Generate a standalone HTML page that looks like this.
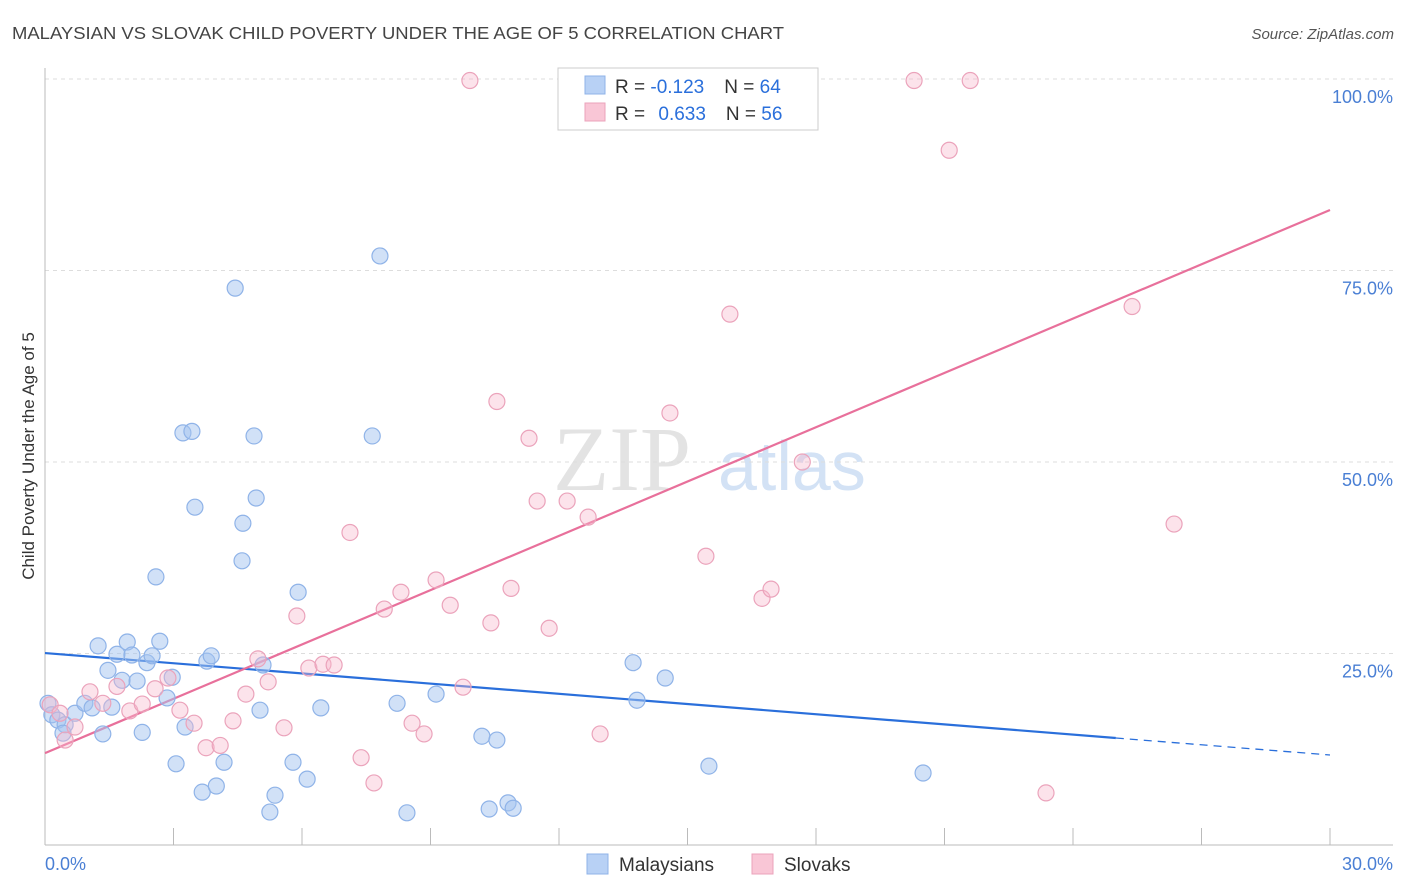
<!DOCTYPE html>
<html><head><meta charset="utf-8">
<style>
body{margin:0;background:#fff;font-family:"Liberation Sans",sans-serif;}
svg{display:block}
</style></head>
<body>
<svg id="chart" width="1406" height="892" xmlns="http://www.w3.org/2000/svg">
<text x="12" y="39" font-size="17.5" fill="#444" font-family="Liberation Sans" textLength="772" lengthAdjust="spacingAndGlyphs">MALAYSIAN VS SLOVAK CHILD POVERTY UNDER THE AGE OF 5 CORRELATION CHART</text>
<text x="1394" y="39" font-size="15" fill="#555" font-style="italic" text-anchor="end">Source: ZipAtlas.com</text>
<g>
<text x="553" y="490" font-size="92" fill="#ddd" font-family="Liberation Serif" opacity="0.8">ZIP</text>
<text x="718" y="490" font-size="70" fill="#c9dcf3" opacity="0.8">atlas</text>
</g>
<g id="grid"></g>
<g id="axes"></g>
<g id="lines"></g>
<g id="points"></g>
<text transform="translate(34,456) rotate(-90)" font-size="17" fill="#333" text-anchor="middle">Child Poverty Under the Age of 5</text>
<g>
<rect x="558" y="68" width="260" height="62" fill="#fff" stroke="#ccc"/>
<rect x="585" y="76" width="20" height="18" fill="#b8d1f5" stroke="#8fb3e8"/>
<rect x="585" y="103" width="20" height="18" fill="#f9c6d6" stroke="#eba3bb"/>
<text x="615" y="93" font-size="19" fill="#333">R = <tspan fill="#2a6fdb">-0.123</tspan><tspan dx="20">N = </tspan><tspan fill="#2a6fdb">64</tspan></text>
<text x="615" y="120" font-size="19" fill="#333">R = <tspan fill="#2a6fdb" dx="8">0.633</tspan><tspan dx="20">N = </tspan><tspan fill="#2a6fdb">56</tspan></text>
</g>
<g>
<rect x="587" y="854" width="21" height="20" fill="#b8d1f5" stroke="#8fb3e8"/>
<text x="619" y="871" font-size="19" fill="#333">Malaysians</text>
<rect x="752" y="854" width="21" height="20" fill="#f9c6d6" stroke="#eba3bb"/>
<text x="784" y="871" font-size="19" fill="#333">Slovaks</text>
</g>
</svg>
<script>
const xTicks=[0,3,6,9,12,15,18,21,24,27,30];
const yTicks=[25,50,75,100];
const yTickLabels=["25.0%","50.0%","75.0%","100.0%"];
const xEndLabels=["0.0%","30.0%"];
const malaysiansX=[0.07,0.16,0.3,0.47,0.42,0.7,0.93,1.1,1.24,1.35,1.47,1.56,1.68,1.8,1.92,2.03,2.15,2.27,2.38,2.5,2.59,2.68,2.85,2.97,3.06,3.22,3.27,3.43,3.5,3.67,3.78,3.88,4.0,4.18,4.44,4.62,4.6,4.88,4.93,5.02,5.09,5.25,5.37,5.79,5.91,6.12,6.44,7.64,7.82,8.22,8.45,9.13,10.2,10.37,10.55,10.81,10.93,13.73,13.82,14.48,15.5,20.5];
const malaysiansY=[18.5,17.0,16.3,15.7,14.6,17.2,18.5,17.9,26.0,14.5,22.8,18.0,24.9,21.5,26.5,24.8,21.4,14.7,23.8,24.7,35.0,26.6,19.2,21.9,10.6,53.8,15.4,54.0,44.1,6.9,24.0,24.7,7.7,10.8,72.7,42.0,37.1,53.4,45.3,17.6,23.5,4.3,6.5,10.8,33.0,8.6,17.9,53.4,76.9,18.5,4.2,19.7,14.2,4.7,13.7,5.5,4.8,23.8,18.9,21.8,10.3,9.4];
const slovaksX=[0.12,0.35,0.47,0.7,1.05,1.35,1.68,1.98,2.27,2.57,2.87,3.15,3.48,3.76,4.09,4.39,4.69,4.97,5.21,5.58,5.88,6.16,6.49,6.75,7.12,7.38,7.68,7.92,8.31,8.57,8.85,9.13,9.46,9.76,9.92,10.41,10.55,10.88,11.3,11.49,11.77,12.19,12.68,12.96,14.59,15.43,15.99,16.74,16.95,17.68,20.29,21.11,21.6,23.37,25.38,26.36];
const slovaksY=[18.3,17.2,13.7,15.4,20.0,18.5,20.7,17.5,18.4,20.4,21.8,17.6,15.9,12.7,13.0,16.2,19.7,24.3,21.3,15.3,29.9,23.1,23.6,23.5,40.8,11.4,8.1,30.8,33.0,15.9,14.5,34.6,31.3,20.6,99.8,29.0,57.9,33.5,53.1,44.9,28.3,44.9,42.8,14.5,56.4,37.7,69.3,32.2,33.4,50.0,99.8,90.7,99.8,6.8,70.3,41.9];
const blueTrend=[25.06,11.75]; const blueSolidEnd=25;
const pinkTrend=[12.0,82.9];

const NS="http://www.w3.org/2000/svg";
const X=v=>45+v/30*1285;
const Y=v=>845-v*7.66;
function mk(tag,attrs,parent){const e=document.createElementNS(NS,tag);for(const k in attrs)e.setAttribute(k,attrs[k]);document.getElementById(parent).appendChild(e);return e;}
yTicks.forEach((t,i)=>{
 const g=mk('line',{x1:45,x2:1393,y1:Y(t),y2:Y(t),stroke:'#ddd','stroke-dasharray':'4,4'},'grid');
 
 
 const l=mk('text',{x:1393,y:Y(t)+24,'font-size':18,fill:'#4a7fd4','text-anchor':'end'},'axes');
 l.textContent=yTickLabels[i];
 
 
});
const ax=mk('line',{x1:45,x2:45,y1:68,y2:845,stroke:'#bbb'},'axes');


const bx=mk('line',{x1:45,x2:1393,y1:845,y2:845,stroke:'#bbb'},'axes');


xTicks.forEach(t=>{
 const e=mk('line',{x1:X(t),x2:X(t),y1:828,y2:845,stroke:'#bbb'},'axes');
 
 
});
[[0,'start',45],[30,'end',1393]].forEach((p,i)=>{
 const l=mk('text',{x:p[2],y:870,'font-size':18,fill:'#4a7fd4','text-anchor':p[1]},'axes');
 l.textContent=xEndLabels[i];
 
 
});
const by=x=>blueTrend[0]+(blueTrend[1]-blueTrend[0])*x/30;
let e=mk('line',{x1:X(0),y1:Y(by(0)),x2:X(blueSolidEnd),y2:Y(by(blueSolidEnd)),stroke:'#2a6fdb','stroke-width':2.2},'lines');


e=mk('line',{x1:X(blueSolidEnd),y1:Y(by(blueSolidEnd)),x2:X(30),y2:Y(by(30)),stroke:'#2a6fdb','stroke-width':1.3,'stroke-dasharray':'8,6'},'lines');


e=mk('line',{x1:X(0),y1:Y(pinkTrend[0]),x2:X(30),y2:Y(pinkTrend[1]),stroke:'#e8709b','stroke-width':2.2},'lines');


malaysiansX.forEach((x,i)=>{
 const c=mk('circle',{cx:X(x),cy:Y(malaysiansY[i]),r:8,fill:'rgba(164,196,240,0.5)',stroke:'#8fb3e8','stroke-width':1.2},'points');
 
 
});
slovaksX.forEach((x,i)=>{
 const c=mk('circle',{cx:X(x),cy:Y(slovaksY[i]),r:8,fill:'rgba(247,185,205,0.4)',stroke:'#eba3bb','stroke-width':1.2},'points');
 
 
});
</script>
</body></html>
